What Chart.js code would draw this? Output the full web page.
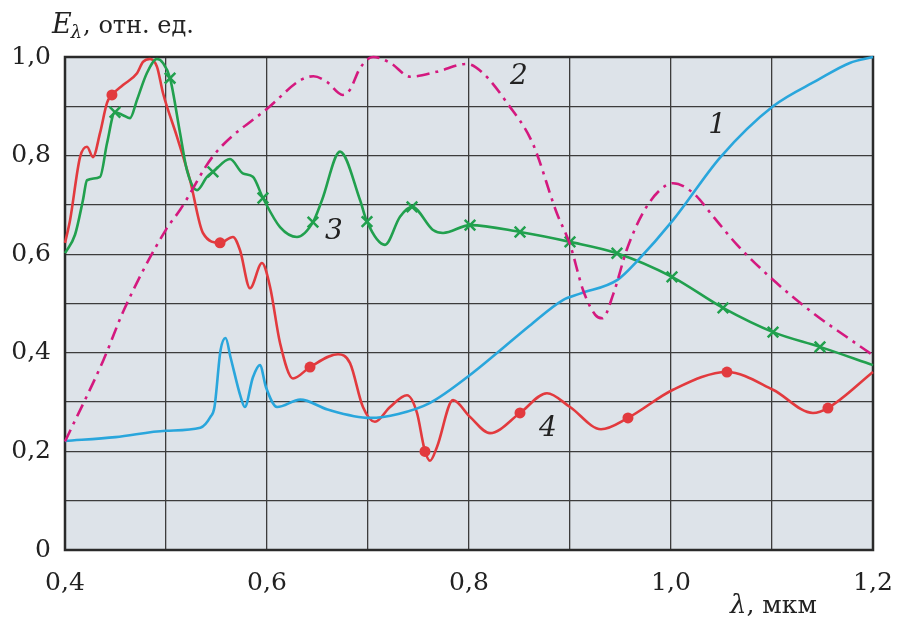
<!DOCTYPE html>
<html>
<head>
<meta charset="utf-8">
<script src="https://cdn.jsdelivr.net/npm/chart.js@4.4.1/dist/chart.umd.min.js"></script>
<style>
  html, body { margin: 0; padding: 0; background: #fff; }
  #wrap { width: 898px; height: 622px; position: relative; }
</style>
</head>
<body>
<div id="wrap"><canvas id="chart"></canvas></div>
<script>
// ---- данные (λ, мкм / E, отн. ед.) ----
const lam1 = [0.400, 0.450, 0.500, 0.534, 0.544, 0.548, 0.554, 0.559, 0.564, 0.574, 0.578, 0.586, 0.593, 0.599, 0.610, 0.633, 0.660, 0.702, 0.730, 0.761, 0.801, 0.828, 0.860, 0.893, 0.910, 0.947, 0.966, 1.002, 1.049, 1.101, 1.145, 1.177, 1.200];
const e1   = [0.221, 0.229, 0.242, 0.248, 0.270, 0.290, 0.405, 0.430, 0.390, 0.310, 0.290, 0.350, 0.375, 0.330, 0.290, 0.305, 0.285, 0.268, 0.276, 0.298, 0.355, 0.400, 0.455, 0.507, 0.520, 0.548, 0.585, 0.669, 0.797, 0.900, 0.953, 0.988, 1.000];

const lam2 = [0.400, 0.438, 0.459, 0.500, 0.514, 0.547, 0.603, 0.633, 0.646, 0.659, 0.675, 0.682, 0.692, 0.705, 0.722, 0.742, 0.768, 0.798, 0.814, 0.838, 0.863, 0.887, 0.900, 0.913, 0.925, 0.932, 0.943, 0.956, 0.972, 0.989, 1.002, 1.022, 1.042, 1.065, 1.101, 1.141, 1.174, 1.200];
const e2   = [0.220, 0.385, 0.490, 0.650, 0.690, 0.800, 0.900, 0.953, 0.961, 0.950, 0.923, 0.933, 0.977, 1.000, 0.988, 0.960, 0.970, 0.986, 0.967, 0.906, 0.825, 0.683, 0.620, 0.527, 0.477, 0.470, 0.520, 0.608, 0.683, 0.730, 0.744, 0.724, 0.676, 0.620, 0.548, 0.480, 0.432, 0.395];

const lam3 = [0.400, 0.410, 0.4178, 0.4218, 0.4347, 0.4416, 0.4495, 0.4574, 0.4644, 0.4713, 0.481, 0.491, 0.497, 0.504, 0.5139, 0.5208, 0.5307, 0.5406, 0.5465, 0.5634, 0.576, 0.586, 0.596, 0.6129, 0.6297, 0.6455, 0.6545, 0.6723, 0.6921, 0.699, 0.7168, 0.7317, 0.7436, 0.7644, 0.7743, 0.801, 0.8505, 0.900, 0.9465, 1.001, 1.0515, 1.101, 1.1475, 1.200];
const e3   = [0.602, 0.640, 0.710, 0.750, 0.757, 0.825, 0.888, 0.882, 0.876, 0.913, 0.967, 0.996, 0.988, 0.957, 0.846, 0.770, 0.730, 0.757, 0.767, 0.793, 0.764, 0.757, 0.714, 0.655, 0.635, 0.665, 0.710, 0.808, 0.710, 0.666, 0.619, 0.676, 0.696, 0.649, 0.643, 0.659, 0.645, 0.625, 0.602, 0.554, 0.491, 0.442, 0.412, 0.375];
const lam3Marks = [0.4495, 0.504, 0.5465, 0.596, 0.6455, 0.699, 0.7436, 0.801, 0.8505, 0.900, 0.9465, 1.001, 1.0515, 1.101, 1.1475];
const e3Marks   = [0.888, 0.957, 0.767, 0.714, 0.665, 0.666, 0.696, 0.659, 0.645, 0.625, 0.602, 0.554, 0.491, 0.442, 0.412];

const lam4 = [0.400, 0.405, 0.4149, 0.4218, 0.4277, 0.4347, 0.4416, 0.4465, 0.4574, 0.4713, 0.4772, 0.4842, 0.4911, 0.497, 0.5109, 0.5238, 0.5366, 0.5535, 0.5663, 0.5733, 0.5832, 0.595, 0.603, 0.6129, 0.6257, 0.6426, 0.6703, 0.6822, 0.695, 0.7069, 0.7218, 0.7386, 0.7485, 0.7545, 0.7564, 0.7614, 0.7683, 0.7842, 0.801, 0.8208, 0.8505, 0.8772, 0.900, 0.9307, 0.9574, 1.002, 1.0554, 1.101, 1.1406, 1.1554, 1.200];
const e4   = [0.623, 0.669, 0.797, 0.818, 0.797, 0.846, 0.907, 0.923, 0.943, 0.967, 0.990, 0.996, 0.980, 0.927, 0.838, 0.750, 0.643, 0.623, 0.635, 0.608, 0.531, 0.582, 0.534, 0.420, 0.348, 0.371, 0.397, 0.379, 0.290, 0.260, 0.290, 0.314, 0.278, 0.217, 0.200, 0.181, 0.209, 0.304, 0.270, 0.237, 0.278, 0.318, 0.290, 0.245, 0.268, 0.325, 0.361, 0.325, 0.278, 0.288, 0.361];
const lam4Marks = [0.4465, 0.5535, 0.6426, 0.7564, 0.8505, 0.9574, 1.0554, 1.1554];
const e4Marks   = [0.923, 0.623, 0.371, 0.200, 0.278, 0.268, 0.361, 0.288];

const curveNames = ['1', '2', '3', '4'];

const BLUE = '#29a6dc', MAGENTA = '#d4197f', GREEN = '#21a04e', RED = '#e23a3e';
const pts = (xs, ys) => xs.map((x, i) => ({ x, y: ys[i] }));
const fmtTick = v => (Math.abs(v) < 1e-9 ? '0' : v.toFixed(1).replace('.', ','));

// подписи кривых и осей
const decor = {
  id: 'decor',
  beforeDraw(chart) {
    const { ctx, chartArea: a } = chart;
    ctx.save();
    ctx.fillStyle = '#dde3e9';
    ctx.fillRect(a.left, a.top, a.right - a.left, a.bottom - a.top);
    ctx.restore();
  },
  beforeDatasetsDraw(chart) {
    const { ctx, chartArea: a } = chart;
    ctx.save();
    ctx.strokeStyle = '#2a2a2a';
    ctx.lineWidth = 2.5;
    ctx.strokeRect(a.left, a.top, a.right - a.left, a.bottom - a.top);
    ctx.restore();
  },
  afterDraw(chart) {
    const { ctx, scales: { x, y } } = chart;
    ctx.save();
    ctx.fillStyle = '#222';
    ctx.textAlign = 'center';
    ctx.textBaseline = 'middle';
    ctx.font = 'italic 28px "DejaVu Serif"';
    const at = [[1.0456, 0.860], [0.8495, 0.959], [0.6663, 0.645], [0.8782, 0.247]];
    curveNames.forEach((n, i) => ctx.fillText(n, x.getPixelForValue(at[i][0]), y.getPixelForValue(at[i][1])));

    // E_λ, отн. ед.
    ctx.textAlign = 'left';
    ctx.textBaseline = 'alphabetic';
    let px = 52;
    ctx.font = 'italic 27px "DejaVu Serif"';
    ctx.fillText('E', px, 33);
    px += ctx.measureText('E').width - 1;
    ctx.font = 'italic 18px "DejaVu Serif"';
    ctx.fillText('λ', px, 38);
    px += ctx.measureText('λ').width + 1;
    ctx.font = '24px "DejaVu Serif"';
    ctx.fillText(', отн. ед.', px, 33);

    // λ, мкм
    px = 730;
    ctx.font = 'italic 26px "DejaVu Serif"';
    ctx.fillText('λ', px, 613);
    px += ctx.measureText('λ').width;
    ctx.font = '25px "DejaVu Serif"';
    ctx.fillText(', мкм', px, 613);
    ctx.restore();
  }
};

const lineDs = (data, color, extra) => Object.assign({
  data, borderColor: color, borderWidth: 2.6, pointRadius: 0,
  cubicInterpolationMode: 'monotone', fill: false, clip: 6
}, extra || {});

new Chart(document.getElementById('chart'), {
  type: 'line',
  data: {
    datasets: [
      lineDs(pts(lam2, e2), MAGENTA, { borderDash: [13, 6, 3, 6] }),
      lineDs(pts(lam1, e1), BLUE),
      lineDs(pts(lam3, e3), GREEN),
      lineDs(pts(lam4, e4), RED),
      { data: pts(lam3Marks, e3Marks), showLine: false, pointStyle: 'crossRot', pointRadius: 7.5,
        borderColor: GREEN, pointBorderWidth: 2.5, clip: 10 },
      { data: pts(lam4Marks, e4Marks), showLine: false, pointStyle: 'circle', pointRadius: 5.5,
        backgroundColor: RED, borderColor: RED, pointBorderWidth: 0, clip: 10 }
    ]
  },
  options: {
    responsive: true,
    maintainAspectRatio: false,
    animation: false,
    layout: { padding: { left: 0, top: 57, right: 25, bottom: 0 } },
    plugins: { legend: { display: false }, tooltip: { enabled: false } },
    scales: {
      x: {
        type: 'linear', min: 0.4, max: 1.2,
        afterFit: s => { s.height = 72; s.paddingLeft = 0; s.paddingRight = 0; },
        border: { display: false },
        grid: { color: '#3c3c3c', lineWidth: 1.3, drawTicks: false },
        ticks: {
          stepSize: 0.1, autoSkip: false, maxRotation: 0, padding: 18,
          color: '#222', font: { family: 'DejaVu Serif', size: 25 },
          callback: v => (Math.round(v * 10) % 2 === 0 ? fmtTick(v) : '')
        }
      },
      y: {
        min: 0, max: 1,
        afterFit: s => { s.width = 65; s.paddingTop = 0; s.paddingBottom = 0; },
        border: { display: false },
        grid: { color: '#3c3c3c', lineWidth: 1.3, drawTicks: false },
        ticks: {
          stepSize: 0.1, autoSkip: false, padding: 14,
          color: '#222', font: { family: 'DejaVu Serif', size: 25 },
          callback: v => (Math.round(v * 10) % 2 === 0 ? fmtTick(v) : '')
        }
      }
    }
  },
  plugins: [decor]
});
</script>
</body>
</html>
